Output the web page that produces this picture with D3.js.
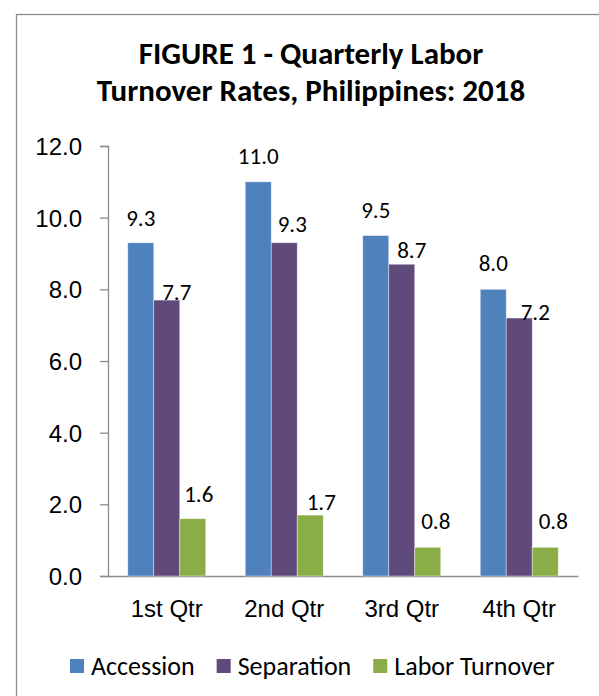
<!DOCTYPE html>
<html>
<head>
<meta charset="utf-8">
<script src="https://cdn.jsdelivr.net/npm/d3@7"></script>
<style>
    body { margin: 0; background: #fff; }
    svg { display: block; font-family: Carlito, Calibri, Lato, sans-serif; }
    .axis path, .axis line { stroke: #8c8c8c; stroke-width: 1.3; }
    .axis text { fill: #000; font-size: 24px; }
</style>
</head>
<body>
<script>
// Chart data
var quarters = ["1st Qtr", "2nd Qtr", "3rd Qtr", "4th Qtr"];
var seriesNames = ["Accession", "Separation", "Labor Turnover"];
var accession = [9.3, 11.0, 9.5, 8.0];
var separation = [7.7, 9.3, 8.7, 7.2];
var laborTurnover = [1.6, 1.7, 0.8, 0.8];
var yTicks = [0, 2, 4, 6, 8, 10, 12];

// Hand placed data labels in the original (shift right, gap above bar)
var labelDx = [[0, 0, 0, 0], [10, 8, 10, 16], [6, 11, 8, 8]];
var labelGap = [[17, 18, 18, 18], [0, 11, 6, -2], [17, 5, 18, 18]];

var colors = ["#4f81bd", "#604a7b", "#8bad47"];

function drawChart() {
    var width = 599,
        height = 696;

    var svg = d3.select("body")
        .append("svg")
        .attr("width", width)
        .attr("height", height);

    // Chart frame (runs off the right and bottom edges)
    svg.append("rect")
        .attr("x", 16.5)
        .attr("y", 14.5)
        .attr("width", 700)
        .attr("height", 800)
        .attr("fill", "#fff")
        .attr("stroke", "#8c8c8c")
        .attr("stroke-width", 1.3);

    // Title
    var title = svg.append("text")
        .attr("text-anchor", "middle")
        .attr("font-weight", "bold")
        .attr("font-size", "31px");
    title.append("tspan").attr("x", 311).attr("y", 64).text("FIGURE 1 - Quarterly Labor");
    title.append("tspan").attr("x", 311).attr("y", 101).text("Turnover Rates, Philippines: 2018");

    var x0 = d3.scaleBand()
        .domain(quarters)
        .range([108, 578]);

    var x1 = d3.scaleBand()
        .domain(seriesNames)
        .range([0, x0.bandwidth()])
        .paddingOuter(0.76);

    var y = d3.scaleLinear()
        .domain([0, 12])
        .range([576, 146]);

    // Y axis
    var yAxis = svg.append("g")
        .attr("class", "axis")
        .attr("transform", "translate(108,0)")
        .call(d3.axisLeft(y).tickValues(yTicks).tickSize(8).tickSizeOuter(8).tickPadding(18)
            .tickFormat(d3.format(".1f")));
    yAxis.selectAll("text").attr("dy", "0.36em");

    // X axis (line only, labels below)
    var xAxis = svg.append("g")
        .attr("class", "axis")
        .attr("transform", "translate(0,576)")
        .call(d3.axisBottom(x0).tickSize(0).tickSizeOuter(0).tickPadding(24));
    xAxis.selectAll("text").attr("dy", "0.71em");

    var series = [accession, separation, laborTurnover];

    var groups = svg.selectAll(".series")
        .data(series)
        .enter()
        .append("g")
        .attr("class", "series")
        .attr("fill", function(d, i) { return colors[i]; });

    groups.selectAll("rect")
        .data(function(d, i) {
            return d.map(function(v, j) { return { s: i, q: j, v: v }; });
        })
        .enter()
        .append("rect")
        .attr("x", function(d) { return x0(quarters[d.q]) + x1(seriesNames[d.s]); })
        .attr("y", function(d) { return y(d.v); })
        .attr("width", x1.bandwidth())
        .attr("height", function(d) { return y(0) - y(d.v); })
        .attr("stroke", "rgba(255,255,255,0.5)")
        .attr("stroke-width", 0.8);

    // Data labels
    groups.selectAll("text")
        .data(function(d, i) {
            return d.map(function(v, j) { return { s: i, q: j, v: v }; });
        })
        .enter()
        .append("text")
        .attr("text-anchor", "middle")
        .attr("font-size", "23px")
        .attr("fill", "#000")
        .attr("x", function(d) {
            return x0(quarters[d.q]) + x1(seriesNames[d.s]) + x1.bandwidth() / 2 + labelDx[d.s][d.q];
        })
        .attr("y", function(d) { return y(d.v) - labelGap[d.s][d.q]; })
        .text(function(d) { return d3.format(".1f")(d.v); });

    // Legend
    var legend = svg.append("g").attr("class", "legend");
    var lx = 70;
    seriesNames.forEach(function(name, i) {
        legend.append("rect")
            .attr("x", lx)
            .attr("y", 659)
            .attr("width", 14)
            .attr("height", 14)
            .attr("fill", colors[i]);
        var t = legend.append("text")
            .attr("x", lx + 21)
            .attr("y", 675)
            .attr("font-size", "26px")
            .text(name);
        lx += 21 + t.node().getComputedTextLength() + 22;
    });
}

drawChart();
</script>
</body>
</html>
